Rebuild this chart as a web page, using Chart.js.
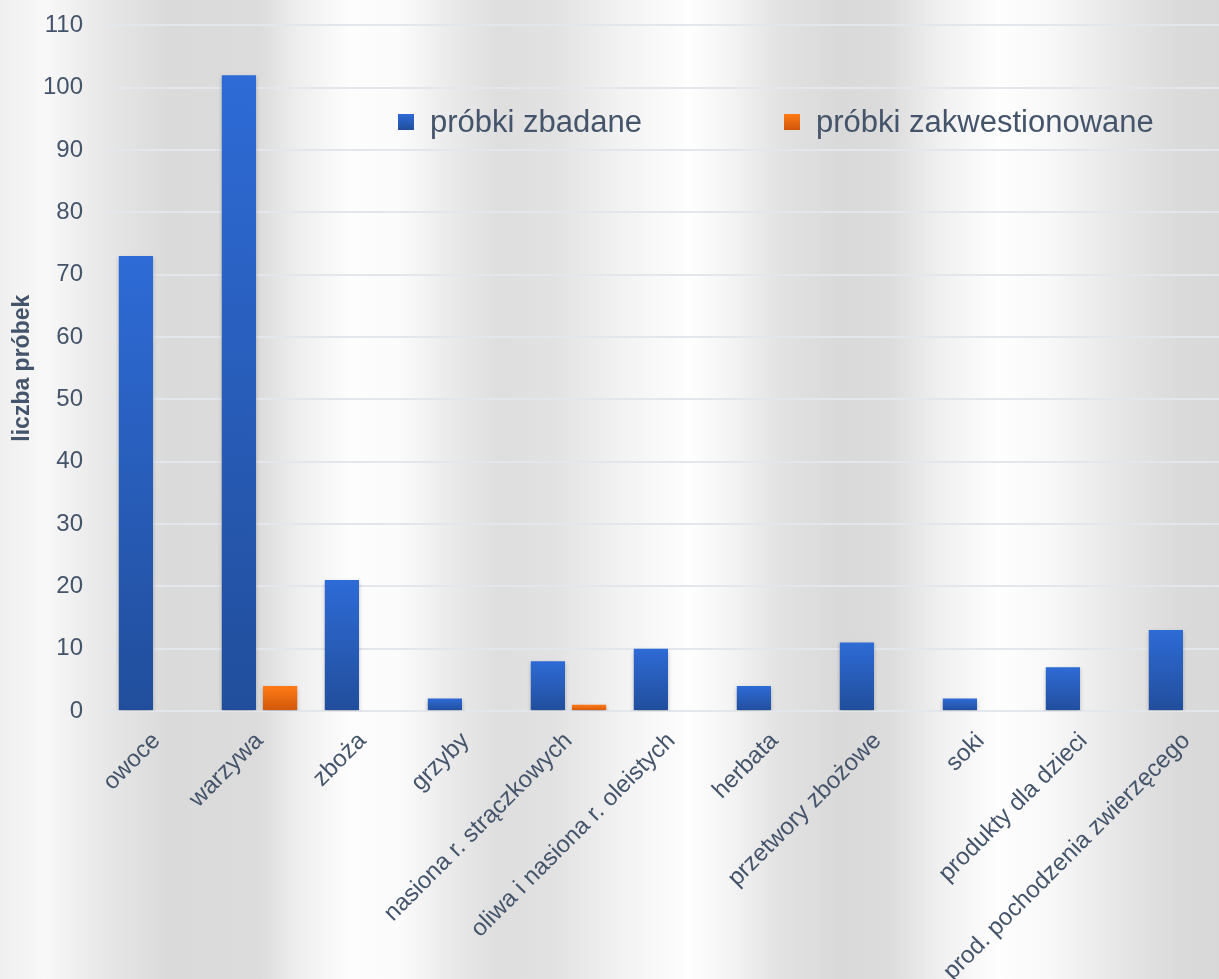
<!DOCTYPE html>
<html>
<head>
<meta charset="utf-8">
<script src="https://cdn.jsdelivr.net/npm/chart.js@4/dist/chart.umd.min.js"></script>
<style>
  html, body { margin: 0; padding: 0; overflow: hidden; background: #eeeeee; }
  #wrap { width: 1238px; height: 1030px; margin-top: -11px; }
</style>
</head>
<body>
<div id="wrap"><canvas id="chart" width="1238" height="1030"></canvas></div>
<script>
const categories = ['owoce', 'warzywa', 'zboża', 'grzyby', 'nasiona r. strączkowych',
  'oliwa i nasiona r. oleistych', 'herbata', 'przetwory zbożowe', 'soki',
  'produkty dla dzieci', 'prod. pochodzenia zwierzęcego'];
const examined = [73, 102, 21, 2, 8, 10, 4, 11, 2, 7, 13];
const questioned = [0, 4, 0, 0, 1, 0, 0, 0, 0, 0, 0];
const yTicks = [0, 10, 20, 30, 40, 50, 60, 70, 80, 90, 100, 110];

const textColor = '#44546A';
const fontFamily = '"Liberation Sans", Arial, sans-serif';

// vertical light/grey bands behind the whole picture
const bgStops = [
  [0, '#efefef'], [45, '#f8f8f8'], [110, '#e6e6e6'], [170, '#dadada'], [260, '#dcdcdc'],
  [300, '#efefef'], [350, '#fdfdfd'], [400, '#fbfbfb'], [450, '#eaeaea'], [500, '#dedede'],
  [555, '#e2e2e2'], [620, '#f2f2f2'], [690, '#fefefe'], [730, '#f4f4f4'], [780, '#e2e2e2'],
  [840, '#d9d9d9'], [890, '#dcdcdc'], [940, '#f0f0f0'], [1000, '#fefefe'], [1050, '#f8f8f8'],
  [1120, '#e6e6e6'], [1180, '#dadada'], [1238, '#d8d8d8']
];

const background = {
  id: 'background',
  beforeDraw(chart) {
    const { ctx, width, height } = chart;
    const g = ctx.createLinearGradient(0, 0, width, 0);
    bgStops.forEach(([x, c]) => g.addColorStop(Math.min(x / width, 1), c));
    ctx.save();
    ctx.fillStyle = g;
    ctx.fillRect(0, 0, width, height);
    ctx.restore();
  }
};

const barShadow = {
  id: 'barShadow',
  beforeDatasetsDraw(chart) {
    const ctx = chart.ctx;
    ctx.save();
    ctx.shadowColor = 'rgba(0,0,0,0.25)';
    ctx.shadowBlur = 4;
    ctx.shadowOffsetY = 2;
  },
  afterDatasetsDraw(chart) {
    chart.ctx.restore();
  }
};

// legend drawn inside the plot area
const innerLegend = {
  id: 'innerLegend',
  afterDraw(chart) {
    const ctx = chart.ctx;
    const xs = [398, 784];
    const y = 133;
    ctx.save();
    ctx.font = '31px ' + fontFamily;
    ctx.textBaseline = 'middle';
    chart.data.datasets.forEach((ds, i) => {
      const g = ctx.createLinearGradient(0, y - 8, 0, y + 8);
      g.addColorStop(0, ds.topColor);
      g.addColorStop(1, ds.bottomColor);
      ctx.fillStyle = g;
      ctx.fillRect(xs[i], y - 8, 16, 16);
      ctx.fillStyle = textColor;
      ctx.fillText(ds.label, xs[i] + 32, y + 1);
    });
    ctx.restore();
  }
};

function barGradient(top, bottom) {
  return (c) => {
    const chart = c.chart;
    if (!chart.chartArea || !c.parsed) return top;
    const y = chart.scales.y;
    const y0 = y.getPixelForValue(0);
    const y1 = y.getPixelForValue(c.parsed.y);
    if (Math.abs(y0 - y1) < 1) return top;
    const g = chart.ctx.createLinearGradient(0, y1, 0, y0);
    g.addColorStop(0, top);
    g.addColorStop(1, bottom);
    return g;
  };
}

new Chart(document.getElementById('chart'), {
  type: 'bar',
  data: {
    labels: categories,
    datasets: [
      {
        label: 'próbki zbadane',
        data: examined,
        topColor: '#2E6BD6',
        bottomColor: '#214E9C',
        backgroundColor: barGradient('#2E6BD6', '#214E9C'),
        barPercentage: 0.83,
        categoryPercentage: 0.8
      },
      {
        label: 'próbki zakwestionowane',
        data: questioned,
        topColor: '#FF7A14',
        bottomColor: '#CF560A',
        backgroundColor: barGradient('#FF7A14', '#CF560A'),
        barPercentage: 0.83,
        categoryPercentage: 0.8
      }
    ]
  },
  options: {
    responsive: false,
    animation: false,
    layout: { padding: { top: 13, right: 0, left: 0, bottom: 0 } },
    plugins: {
      legend: { display: false },
      tooltip: { enabled: false }
    },
    scales: {
      x: {
        grid: { display: false },
        border: { color: '#E3E6EB', width: 2 },
        ticks: {
          color: textColor,
          font: { family: fontFamily, size: 24 },
          autoSkip: false,
          minRotation: 45,
          maxRotation: 45,
          padding: 8
        },
        afterFit(s) { s.height = 308; }
      },
      y: {
        min: 0,
        max: 110,
        afterBuildTicks(s) { s.ticks = yTicks.map(v => ({ value: v })); },
        grid: { color: '#E3E6EB', lineWidth: 2, drawTicks: false },
        border: { display: false },
        ticks: {
          color: textColor,
          font: { family: fontFamily, size: 24 },
          padding: 22
        },
        title: {
          display: true,
          text: 'liczba próbek',
          color: textColor,
          font: { family: fontFamily, size: 23, weight: 'bold' },
          padding: { top: 9, bottom: 0 }
        },
        afterFit(s) { s.width = 105; }
      }
    }
  },
  plugins: [background, barShadow, innerLegend]
});
</script>
</body>
</html>
